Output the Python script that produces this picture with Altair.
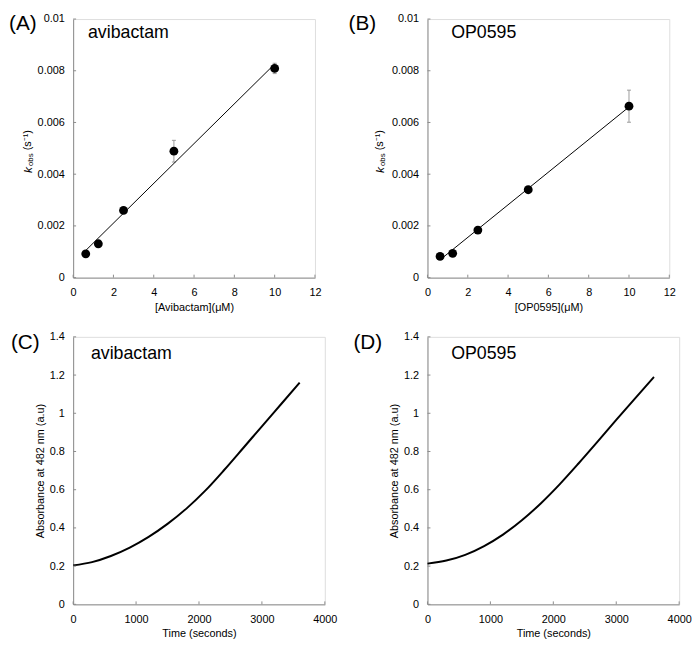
import altair as alt
import pandas as pd

FONT = "Liberation Sans"
AXIS_GRAY = "#8c8c8c"
ERR_GRAY = "#9a9a9a"

# ---- data: panels A / B (kobs vs inhibitor concentration) ----
conc = [0.625, 1.25, 2.5, 5, 10]
kobs_avi = [0.00092, 0.00131, 0.0026, 0.00489, 0.00809]
err_avi = [0.00005, 0.00008, 0.0001, 0.00042, 0.0002]
kobs_op = [0.00082, 0.00094, 0.00184, 0.0034, 0.00663]
err_op = [0.00004, 0.00005, 0.00008, 0.00008, 0.00062]
fit_x = [0.625, 10]
fit_avi = [0.00105, 0.00826]
fit_op = [0.00069, 0.0066]

# ---- data: panels C / D (absorbance traces) ----
time_s = [0, 300, 600, 900, 1200, 1500, 1800, 2100, 2400, 2700, 3000, 3300, 3600]
abs_avi = [0.204, 0.221, 0.253, 0.297, 0.353, 0.421, 0.501, 0.595, 0.703, 0.817, 0.932, 1.046, 1.160]
abs_op = [0.213, 0.229, 0.259, 0.305, 0.365, 0.440, 0.528, 0.628, 0.737, 0.850, 0.965, 1.078, 1.190]

# ---- tick values ----
conc_ticks = [0, 2, 4, 6, 8, 10, 12]
k_ticks = [0, 0.002, 0.004, 0.006, 0.008, 0.01]
time_ticks = [0, 1000, 2000, 3000, 4000]
abs_ticks = [0, 0.2, 0.4, 0.6, 0.8, 1.0, 1.2, 1.4]

ONE = pd.DataFrame({"d": [0]})


def axis(values, title, fmt, label_pad, title_pad):
    kw = dict(values=values, format=fmt, ticks=False, tickSize=0, grid=False,
              domainColor=AXIS_GRAY, domainWidth=1, labelColor="black",
              labelFontSize=11, labelFont=FONT, labelPadding=label_pad,
              titleFont=FONT, titleFontSize=11, titleFontWeight="normal",
              titleColor="black", titlePadding=title_pad, labelFlush=False,
              labelOverlap=False)
    return alt.Axis(title=title, **kw)


def inner_ticks(xs_vals, ys_vals, X, Y, W, H):
    xt = alt.Chart(pd.DataFrame({"v": xs_vals})).mark_rule(color=AXIS_GRAY, strokeWidth=1).encode(
        x=X("v"), y=alt.value(H), y2=alt.value(H - 3))
    yt = alt.Chart(pd.DataFrame({"v": ys_vals})).mark_rule(color=AXIS_GRAY, strokeWidth=1).encode(
        y=Y("v"), x=alt.value(0), x2=alt.value(3))
    return [xt, yt]


def label_text(text, x, y, size, baseline="middle"):
    return alt.Chart(ONE).mark_text(text=text, align="left", baseline=baseline, font=FONT,
                                    fontSize=size, color="black").encode(
        x=alt.value(x), y=alt.value(y))


def kin_panel(letter, name, xlabel, k, err, fit, W, H, letter_dx, name_dx, title_dx):
    xs = alt.Scale(domain=[0, 12], nice=False, zero=False)
    ys = alt.Scale(domain=[0, 0.01], nice=False, zero=False)
    xax = axis(conc_ticks, xlabel, "~g", 9, 4)
    yax = axis(k_ticks, None, "~g", 9, 4)

    def X(f):
        return alt.X(f"{f}:Q", scale=xs, axis=xax)

    def Y(f):
        return alt.Y(f"{f}:Q", scale=ys, axis=yax)

    df = pd.DataFrame({"x": conc, "y": k,
                       "lo": [a - b for a, b in zip(k, err)],
                       "hi": [a + b for a, b in zip(k, err)]})
    fdf = pd.DataFrame({"x": fit_x, "y": fit})
    base = alt.Chart(df)
    err_rule = base.mark_rule(color=ERR_GRAY, strokeWidth=1).encode(x=X("x"), y=Y("lo"), y2="hi:Q")
    cap_hi = base.mark_tick(orient="horizontal", size=4, thickness=1, color=ERR_GRAY, opacity=1).encode(
        x=X("x"), y=Y("hi"))
    cap_lo = base.mark_tick(orient="horizontal", size=4, thickness=1, color=ERR_GRAY, opacity=1).encode(
        x=X("x"), y=Y("lo"))
    fit_line = alt.Chart(fdf).mark_line(color="black", strokeWidth=1).encode(x=X("x"), y=Y("y"))
    pts = base.mark_circle(size=80, color="black", opacity=1).encode(x=X("x"), y=Y("y"))

    cx = title_dx
    c = H / 2
    t_k = alt.Chart(ONE).mark_text(text="k", angle=270, align="left", baseline="middle", font=FONT,
                                   fontSize=12, fontStyle="italic", color="black").encode(
        x=alt.value(cx), y=alt.value(c + 25))
    t_obs = alt.Chart(ONE).mark_text(text="obs", angle=270, align="left", baseline="middle", font=FONT,
                                     fontSize=8, color="black").encode(
        x=alt.value(cx + 3), y=alt.value(c + 18))
    t_unit = alt.Chart(ONE).mark_text(text="(s\u207b\u00b9)", angle=270, align="left", baseline="middle",
                                      font=FONT, fontSize=11, color="black").encode(
        x=alt.value(cx), y=alt.value(c + 2))

    layers = [err_rule, cap_hi, cap_lo, fit_line, pts] + inner_ticks(conc_ticks, k_ticks, X, Y, W, H) + [
        t_k, t_obs, t_unit,
        label_text(name, name_dx, 14, 18),
        label_text(letter, letter_dx, -6, 21, "top"),
    ]
    return alt.layer(*layers).properties(width=W, height=H)


def abs_panel(letter, name, vals, W, H, letter_dx, name_dx):
    xs = alt.Scale(domain=[0, 4000], nice=False, zero=False)
    ys = alt.Scale(domain=[0, 1.4], nice=False, zero=False)
    xax = axis(time_ticks, "Time (seconds)", "d", 9, 4)
    yax = axis(abs_ticks, "Absorbance at 482 nm (a.u)", "~g", 9, 4)

    def X(f):
        return alt.X(f"{f}:Q", scale=xs, axis=xax)

    def Y(f):
        return alt.Y(f"{f}:Q", scale=ys, axis=yax)

    df = pd.DataFrame({"t": time_s, "a": vals})
    line = alt.Chart(df).mark_line(color="black", strokeWidth=2, interpolate="monotone").encode(
        x=X("t"), y=Y("a"))
    layers = [line] + inner_ticks(time_ticks, abs_ticks, X, Y, W, H) + [
        label_text(name, name_dx, 17, 18),
        label_text(letter, letter_dx, -5, 21, "top"),
    ]
    return alt.layer(*layers).properties(width=W, height=H)


pA = kin_panel("(A)", "avibactam", "[Avibactam](\u03bcM)", kobs_avi, err_avi, fit_avi,
               245, 262, -65, 15, -46)
pB = kin_panel("(B)", "OP0595", "[OP0595](\u03bcM)", kobs_op, err_op, fit_op,
               245, 262, -80, 24, -48)
pC = abs_panel("(C)", "avibactam", abs_avi, 255, 271, -63, 18)
pD = abs_panel("(D)", "OP0595", abs_op, 255, 271, -75, 24)

chart = alt.concat(pA, pB, pC, pD, columns=2, spacing={"row": 60, "column": 104},
                   bounds="flush", align="each").properties(
    padding=0
).configure_view(stroke=None).configure(font=FONT)

chart.save("out.html", embed_options={"renderer": "svg", "actions": False})
